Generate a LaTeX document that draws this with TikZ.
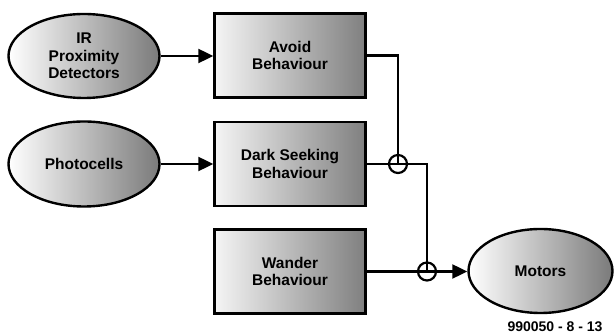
\documentclass[tikz,border=0pt]{standalone}
\usepackage{fontspec}
\setmainfont{Liberation Sans}
\usetikzlibrary{shapes.geometric,arrows.meta}
\tikzset{
  lbl/.style={font=\fontsize{15.5}{17.5}\selectfont\bfseries, align=center, text=black},
  oval/.style={ellipse, draw=black, line width=2.4pt, inner sep=0pt, left color=white, right color=black!52, lbl},
  blk/.style={rectangle, draw=black, line width=2.4pt, inner sep=0pt, minimum width=151pt, minimum height=84pt, left color=white!96!black, right color=black!50, lbl},
  wire/.style={line width=2.2pt, draw=black},
  arr/.style={wire, -{Triangle[length=15pt,width=14pt]}},
  junc/.style={circle, draw=black, line width=2.2pt, minimum size=18pt, inner sep=0pt}
}
\begin{document}
\begin{tikzpicture}[x=1pt,y=-1pt]
\useasboundingbox (0,0) rectangle (614,336);
\node[oval, minimum width=151pt, minimum height=84pt] (ir) at (84,56) {IR\\Proximity\\Detectors};
\node[oval, minimum width=151pt, minimum height=85pt] (photo) at (84,164) {Photocells};
\node[oval, minimum width=144pt, minimum height=84pt] (motors) at (540.5,271) {Motors};
\node[blk] (avoid) at (290,55.5) {Avoid\\Behaviour};
\node[blk] (dark) at (290,164) {Dark Seeking\\Behaviour};
\node[blk] (wander) at (290,271.5) {Wander\\Behaviour};
\coordinate (j1) at (398,164);
\coordinate (j2) at (427,271.5);
\draw[arr] (ir.east) -- (avoid.west |- ir.east);
\draw[arr] (photo.east) -- (dark.west |- photo.east);
\draw[wire] (avoid.east) -| (j1);
\draw[wire] (dark.east) -| (j2);
\draw[arr] (wander.east) -- (motors.west |- wander.east);
\node[junc] (c1) at (j1) {};
\node[junc] (c2) at (j2) {};
\node[font=\fontsize{14}{16}\selectfont\bfseries, anchor=east] (ref) at (606,327) {990050 - 8 - 13};
\end{tikzpicture}
\end{document}
